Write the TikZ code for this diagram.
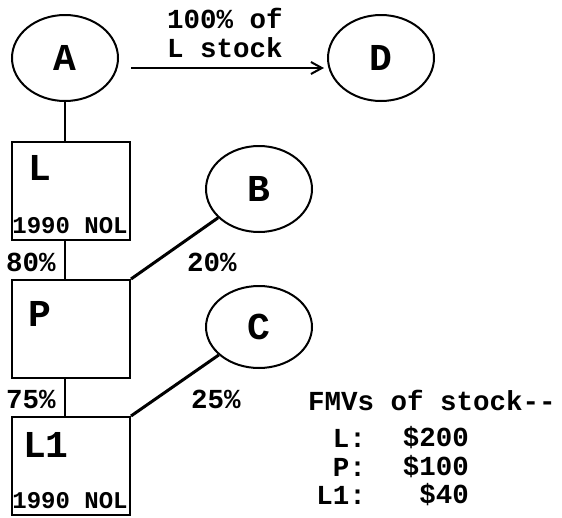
\documentclass[tikz,border=0pt]{standalone}
\usepackage{fontspec}
\setmainfont{Liberation Mono}
\usetikzlibrary{shapes.geometric,arrows.meta}
\tikzset{
  ent/.style={draw,line width=2pt,ellipse,inner sep=0pt,minimum width=106pt,minimum height=86pt,font=\fontsize{38}{38}\selectfont\bfseries},
  corp/.style={draw,line width=2pt,rectangle,inner sep=0pt,minimum width=118pt,minimum height=98pt},
  big/.style={font=\fontsize{38}{38}\selectfont\bfseries,inner sep=0pt},
  nol/.style={font=\fontsize{24}{24}\selectfont\bfseries,inner sep=0pt},
  txt/.style={font=\fontsize{27.5}{27.5}\selectfont\bfseries,inner sep=0pt},
  link/.style={line width=2pt},
  own/.style={line width=3pt}
}
\begin{document}
\begin{tikzpicture}[x=1pt,y=-1pt]
\useasboundingbox (0,0) rectangle (562,517);
\node[ent] (A) at (65,58) {A};
\node[ent] (D) at (381,58) {D};
\node[ent] (B) at (259,189) {B};
\node[ent,minimum height=82pt] (C) at (259,327) {C};
\node[corp] (L) at (71,191) {};
\node[corp] (P) at (71,329) {};
\node[corp] (L1) at (71,466) {};
\node[big] (Lt) at (40,168) {L};
\node[nol] (Ln) at (70,226) {1990 NOL};
\node[big] (Pt) at (40,314) {P};
\node[big] (L1t) at (46,445) {L1};
\node[nol] (L1n) at (70,501) {1990 NOL};
\node[txt,align=center] (lab) at (225,33) {100\% of\\[2pt]L stock};
\draw[link,-{Straight Barb[length=11pt,width=12pt]}] ([xshift=12pt,yshift=-10pt]A.east) -- ([xshift=-3pt,yshift=-10pt]D.west);
\draw[link] (A.south) -- (A.south |- L.north);
\draw[link] (A.south |- L.south) -- (A.south |- P.north);
\draw[link] (A.south |- P.south) -- (A.south |- L1.north);
\draw[own] (P.north east) -- (B);
\draw[own] (L1.north east) -- (C);
\node[txt] (p80) at (31,262) {80\%};
\node[txt] (p20) at (212,262) {20\%};
\node[txt] (p75) at (31,399) {75\%};
\node[txt] (p25) at (216,399) {25\%};
\node[txt] (fmv) at (432,400) {FMVs of stock{-}{-}};
\node[txt,anchor=east] (k1) at (366,438) {L:};
\node[txt,anchor=east] (v1) at (469,438) {\$200};
\node[txt,anchor=east] (k2) at (366,467) {P:};
\node[txt,anchor=east] (v2) at (469,467) {\$100};
\node[txt,anchor=east] (k3) at (366,495) {L1:};
\node[txt,anchor=east] (v3) at (469,495) {\$40};
\end{tikzpicture}
\end{document}
